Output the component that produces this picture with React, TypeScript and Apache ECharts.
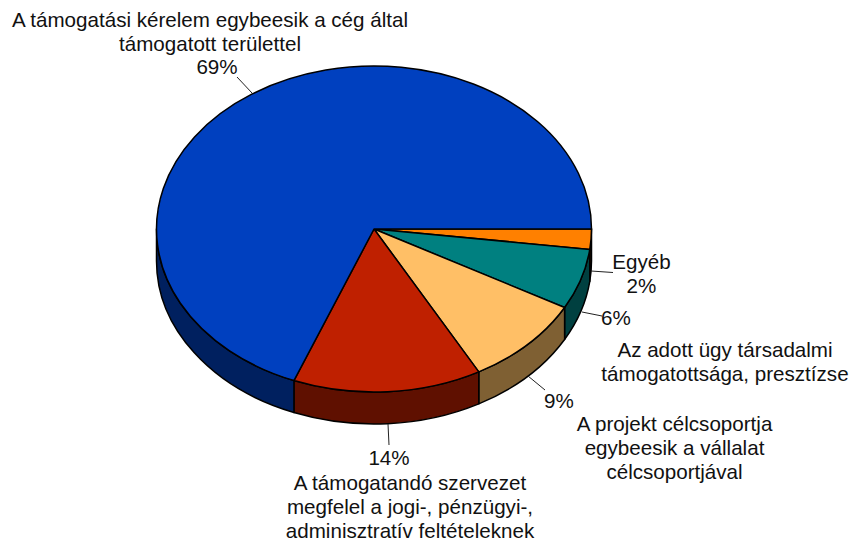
import React, { useEffect, useRef } from "react";
import * as echarts from "echarts";

// Share of each answer, in percent, clockwise from three o'clock.
const categories = [
  "Egyéb",
  "Az adott ügy társadalmi\ntámogatottsága, presztízse",
  "A projekt célcsoportja\negybeesik a vállalat\ncélcsoportjával",
  "A támogatandó szervezet\nmegfelel a jogi-, pénzügyi-,\nadminisztratív feltételeknek",
  "A támogatási kérelem egybeesik a cég által\ntámogatott területtel",
];
const values = [2, 6, 9, 14, 69];
const topColors = ["#FF8000", "#008080", "#FFBF66", "#BF2000", "#0040BF"];
const sideColors = ["#804000", "#004040", "#7F6033", "#5F1000", "#00205F"];

// Tilted disc geometry.
const CX = 374;
const CY = 229;
const RX = 217.5;
const RY = 163;
const DEPTH = 32;

// Where each slice's name, percentage and leader line sit.
const labelLayout = [
  { name: [641.5, 261], pct: [641.5, 285], line: [[591, 271], [613, 272.5]] },
  { name: [725, 349], pct: [616, 317], line: [[582, 312], [602, 316]] },
  { name: [674.5, 423], pct: [559, 400], line: [[528, 376], [545, 390]] },
  { name: [410, 482], pct: [389, 457], line: [[388, 424], [389, 445]] },
  { name: [210, 19.5], pct: [217, 66.5], line: [[237, 77], [252, 93]] },
];

const LINE_HEIGHT = 24.4;
const FONT = '20.6px "Liberation Sans", Arial, sans-serif';
const total = values.reduce((a, b) => a + b, 0);

const point = (deg: number, dy = 0) => {
  const r = (deg * Math.PI) / 180;
  return [CX + RX * Math.cos(r), CY + RY * Math.sin(r) + dy];
};
const fmt = (p: number[]) => `${p[0].toFixed(2)} ${p[1].toFixed(2)}`;

function topPath(a0: number, a1: number) {
  const large = a1 - a0 > 180 ? 1 : 0;
  return `M${CX} ${CY}L${fmt(point(a0))}A${RX} ${RY} 0 ${large} 1 ${fmt(point(a1))}Z`;
}

// Outer wall: only the part of the rim on the near half of the disc shows.
function wallPath(a0: number, a1: number) {
  const from = Math.max(a0, 0);
  const to = Math.min(a1, 180);
  if (to <= from) return null;
  return (
    `M${fmt(point(from))}A${RX} ${RY} 0 0 1 ${fmt(point(to))}` +
    `L${fmt(point(to, DEPTH))}A${RX} ${RY} 0 0 0 ${fmt(point(from, DEPTH))}Z`
  );
}

function renderSlice(params: any, api: any) {
  const i = params.dataIndex;
  const before = values.slice(0, i).reduce((a, b) => a + b, 0);
  const a0 = (before / total) * 360;
  const a1 = a0 + (api.value(0) / total) * 360;
  const outline = { stroke: "#000", lineWidth: 1.5, lineJoin: "round" };
  const children: any[] = [];

  const wall = wallPath(a0, a1);
  if (wall) {
    children.push({
      type: "path",
      shape: { pathData: wall },
      style: { fill: sideColors[i], ...outline },
    });
  }
  children.push({
    type: "path",
    shape: { pathData: topPath(a0, a1) },
    style: { fill: topColors[i], ...outline },
  });

  const layout = labelLayout[i];
  children.push({
    type: "line",
    shape: {
      x1: layout.line[0][0],
      y1: layout.line[0][1],
      x2: layout.line[1][0],
      y2: layout.line[1][1],
    },
    style: { stroke: "#222", lineWidth: 1 },
  });
  const textStyle = { font: FONT, fill: "#111", align: "center", verticalAlign: "middle" };
  children.push({
    type: "text",
    style: { text: `${api.value(0)}%`, x: layout.pct[0], y: layout.pct[1], ...textStyle },
  });
  categories[i].split("\n").forEach((line, k) => {
    children.push({
      type: "text",
      style: {
        text: line,
        x: layout.name[0],
        y: layout.name[1] + k * LINE_HEIGHT,
        ...textStyle,
      },
    });
  });
  return { type: "group", children };
}

export default function App() {
  const ref = useRef<HTMLDivElement>(null);
  useEffect(() => {
    const chart = echarts.init(ref.current!, null, { renderer: "svg" });
    chart.setOption({
      animation: false,
      backgroundColor: "#fff",
      series: [
        {
          type: "custom",
          coordinateSystem: "none",
          silent: true,
          renderItem: renderSlice,
          data: values.map((v, i) => ({ name: categories[i], value: [v] })),
        },
      ],
    });
    return () => chart.dispose();
  }, []);
  return (
    <div
      ref={ref}
      style={{ position: "absolute", left: 0, top: 0, width: 852, height: 545 }}
    />
  );
}
